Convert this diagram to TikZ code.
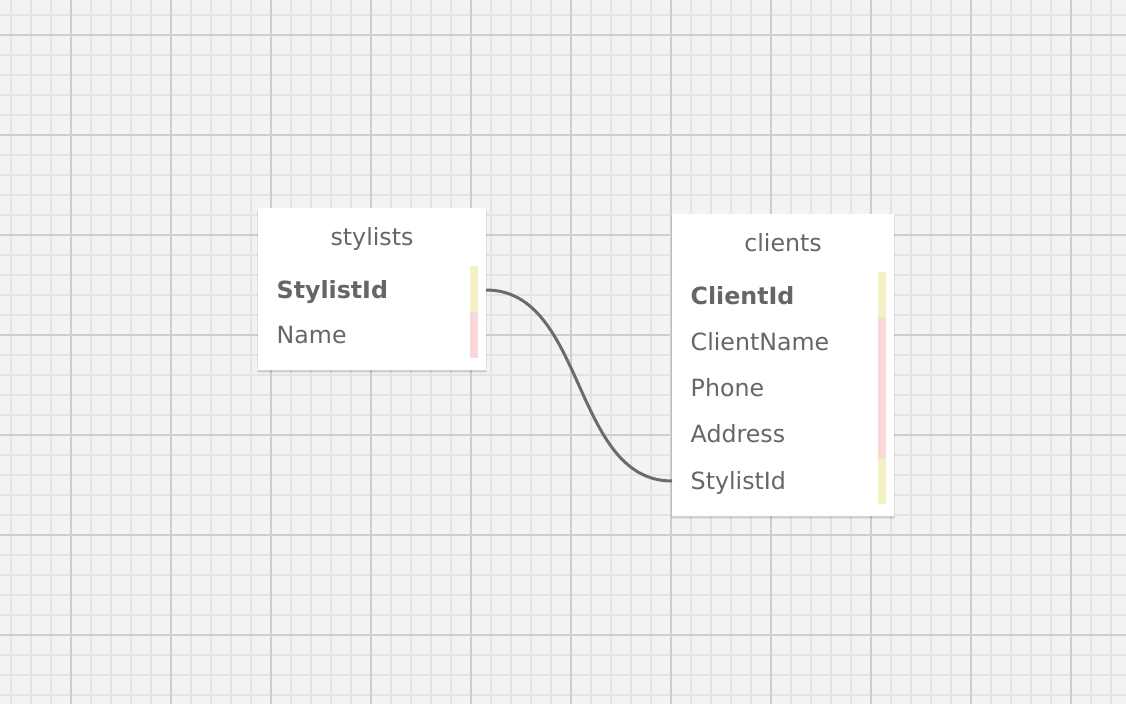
\documentclass[tikz,border=0pt]{standalone}
\usepackage{fontspec}
\setmainfont{DejaVu Sans}
\definecolor{bgc}{HTML}{F3F3F3}
\definecolor{minorc}{HTML}{E4E4E4}
\definecolor{majorc}{HTML}{CECECE}
\definecolor{txtc}{HTML}{666666}
\definecolor{pkbar}{HTML}{F4F1C6}
\definecolor{fldbar}{HTML}{F8D8D8}
\definecolor{linec}{HTML}{6B6B6B}
\tikzset{
  minorline/.style={draw=minorc, line width=1.6pt},
  majorline/.style={draw=majorc, line width=1.8pt},
  tablebox/.style={draw=none, fill=white, rectangle, inner sep=0pt, anchor=north west},
  shadowbox/.style={fill=black, opacity=0.07},
  titletext/.style={text=txtc, font=\fontsize{23.7}{28}\selectfont, inner sep=0pt, anchor=base},
  rowtext/.style={text=txtc, font=\fontsize{23.7}{28}\selectfont, inner sep=0pt, anchor=base west},
  pktext/.style={rowtext, font=\fontsize{23.7}{28}\selectfont\bfseries},
  conn/.style={draw=linec, line width=3pt}
}
\begin{document}
\begin{tikzpicture}[x=1pt, y=-1pt]
\useasboundingbox (0,0) rectangle (1126,704);
\fill[bgc] (0,0) rectangle (1126,704);
% grid
\foreach \i in {0,...,56} {
  \draw[minorline] ({10.7+20*\i},0) -- ({10.7+20*\i},704);
}
\foreach \i in {0,...,35} {
  \draw[minorline] (0,{14.7+20*\i}) -- (1126,{14.7+20*\i});
}
\foreach \i in {0,...,11} {
  \draw[majorline] ({70.7+100*\i},0) -- ({70.7+100*\i},704);
}
\foreach \i in {0,...,6} {
  \draw[majorline] (0,{34.7+100*\i}) -- (1126,{34.7+100*\i});
}
% shadows
\fill[shadowbox] (257,209.5) rectangle (487,371.5);
\fill[shadowbox] (258,210) rectangle (486,372.5);
\fill[shadowbox] (671,215.5) rectangle (895,517.5);
\fill[shadowbox] (672,216) rectangle (894,518.5);
% stylists table
\node[tablebox, minimum width=228pt, minimum height=161.5pt] (stylists) at (258,208) {};
\node[titletext] (stitle) at (372,245.7) {stylists};
\node[pktext] (sid) at (276.5,298.3) {StylistId};
\node[rowtext] (sname) at (276.5,343.6) {Name};
\fill[pkbar] (470,266) rectangle (478,312);
\fill[fldbar] (470,312) rectangle (478,357.7);
% clients table
\node[tablebox, minimum width=222pt, minimum height=302pt] (clients) at (672,214) {};
\node[titletext] (ctitle) at (783,251.7) {clients};
\node[pktext] (cid) at (690.5,304) {ClientId};
\node[rowtext] (cname) at (690.5,350) {ClientName};
\node[rowtext] (cphone) at (690.5,396) {Phone};
\node[rowtext] (caddr) at (690.5,442.5) {Address};
\node[rowtext] (csid) at (690.5,489) {StylistId};
\fill[pkbar] (878,272.3) rectangle (886,318.3);
\fill[fldbar] (878,318.3) rectangle (886,458.3);
\fill[pkbar] (878,458.3) rectangle (886,503.7);
% connector
\coordinate (sport) at (486,290);
\coordinate (cport) at (672,481);
\draw[conn] (sport) .. controls +(100,0) and +(-100,0) .. (cport);
\end{tikzpicture}
\end{document}
